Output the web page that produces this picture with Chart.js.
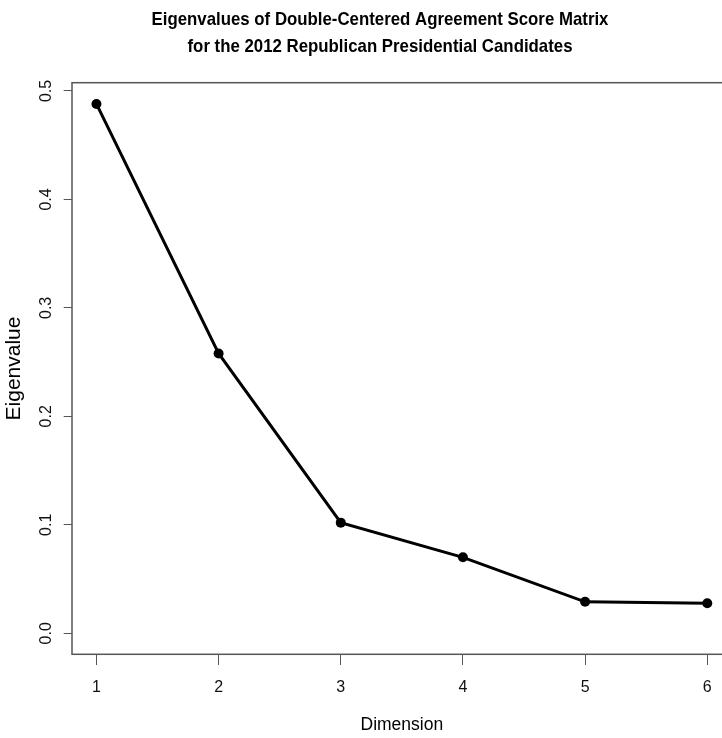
<!DOCTYPE html>
<html>
<head>
<meta charset="utf-8">
<script src="https://cdn.jsdelivr.net/npm/chart.js@4/dist/chart.umd.min.js"></script>
<style>
  html, body { margin: 0; padding: 0; background: #fff; overflow: hidden; }
  #wrap { width: 760px; height: 738px; }
</style>
</head>
<body>
<div id="wrap"><canvas id="c" width="760" height="738"></canvas></div>
<script>
// ---- data ----
const titleLines = ["Eigenvalues of Double-Centered Agreement Score Matrix",
                    "for the 2012 Republican Presidential Candidates"];
const dimensions = [1, 2, 3, 4, 5, 6];
const eigenvalues = [0.488, 0.258, 0.102, 0.070, 0.029, 0.0276];
const xTicks = [1, 2, 3, 4, 5, 6];
const yTicks = [0.0, 0.1, 0.2, 0.3, 0.4, 0.5];
const yTickLabels = ["0.0", "0.1", "0.2", "0.3", "0.4", "0.5"];
const xTitle = "Dimension";
const yTitle = "Eigenvalue";

const FONT = "'Liberation Sans', Arial, sans-serif";
const AXIS_COLOR = "#555555";

// R-style box around the plot region
const boxPlugin = {
  id: 'rbox',
  afterDatasetsDraw(chart) {
    const a = chart.chartArea, ctx = chart.ctx;
    ctx.save();
    ctx.strokeStyle = AXIS_COLOR;
    ctx.lineWidth = 1.5;
    ctx.strokeRect(a.left, a.top, a.right - a.left, a.bottom - a.top);
    ctx.restore();
  }
};

// Condensed bold two-line main title (like R's main= on a stretched device)
const titlePlugin = {
  id: 'rtitle',
  afterDraw(chart) {
    const ctx = chart.ctx;
    const pad = chart.options.layout.padding;
    const cx = (pad.left + chart.width - pad.right) / 2;
    const lineYs = [19.7, 46.3];
    ctx.save();
    ctx.fillStyle = '#000';
    ctx.font = "bold 19px " + FONT;
    ctx.textAlign = 'center';
    ctx.textBaseline = 'middle';
    titleLines.forEach((line, i) => {
      ctx.save();
      ctx.translate(cx, lineYs[i]);
      ctx.scale(0.885, 1);
      ctx.fillText(line, 0, 0);
      ctx.restore();
    });
    ctx.restore();
  }
};

new Chart(document.getElementById('c'), {
  type: 'line',
  data: {
    datasets: [{
      data: dimensions.map((d, i) => ({x: d, y: eigenvalues[i]})),
      borderColor: '#000',
      backgroundColor: '#000',
      borderWidth: 3,
      pointRadius: 5,
      pointBorderWidth: 0,
      pointBackgroundColor: '#000',
      tension: 0,
      fill: false
    }]
  },
  plugins: [boxPlugin, titlePlugin],
  options: {
    responsive: false,
    animation: false,
    devicePixelRatio: 1,
    layout: { padding: { left: 28.3, right: 28.3, top: 82.7, bottom: 0 } },
    plugins: {
      legend: { display: false },
      tooltip: { enabled: false },
      title: { display: false }
    },
    scales: {
      x: {
        type: 'linear',
        min: 0.8,
        max: 6.2,
        afterBuildTicks: (s) => { s.ticks = xTicks.map(v => ({value: v})); },
        afterFit: (s) => { s.height = 83.7; },
        border: { display: false },
        grid: { drawOnChartArea: false, drawTicks: true, tickLength: 10.7, tickColor: AXIS_COLOR, tickWidth: 1 },
        ticks: { color: '#111', font: { family: FONT, size: 16 }, padding: 12.5, autoSkip: false, maxRotation: 0,
                 callback: (v) => String(v) },
        title: { display: true, text: xTitle, color: '#000', font: { family: FONT, size: 17.5 }, padding: { top: 0, bottom: 2.5 } }
      },
      y: {
        type: 'linear',
        min: -0.0194,
        max: 0.5076,
        afterBuildTicks: (s) => { s.ticks = yTicks.map(v => ({value: v})); },
        afterFit: (s) => { s.width = 43.7; },
        border: { display: false },
        grid: { drawOnChartArea: false, drawTicks: true, tickLength: 8.3, tickColor: AXIS_COLOR, tickWidth: 1 },
        ticks: { color: '#111', font: { family: FONT, size: 16 }, padding: 6, autoSkip: false,
                 minRotation: 90, maxRotation: 90, crossAlign: 'center',
                 callback: (v) => { const i = yTicks.indexOf(v); return i >= 0 ? yTickLabels[i] : ''; } },
        title: { display: true, text: yTitle, color: '#000', font: { family: FONT, size: 21 }, padding: { top: -26.8, bottom: 0 } }
      }
    }
  }
});
</script>
</body>
</html>
